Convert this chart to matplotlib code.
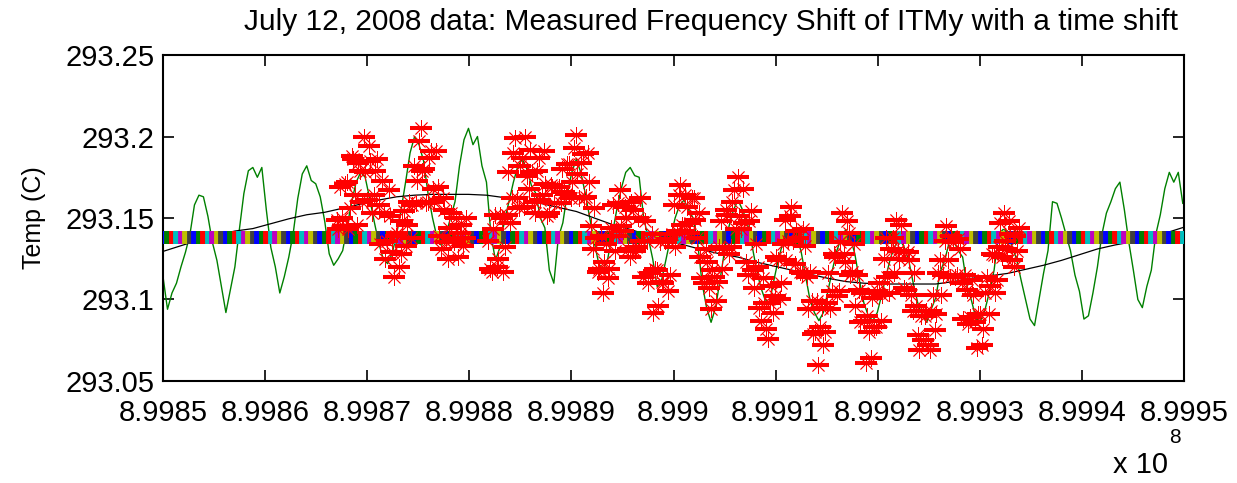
import numpy as np
import matplotlib
matplotlib.use('Agg')
from matplotlib import pyplot as plt
from matplotlib.ticker import FixedLocator, FuncFormatter

matplotlib.rcParams['font.family'] = ['Liberation Sans', 'DejaVu Sans']

### data (temperatures are stored as mK above 293 K)
base = 293.0
nan = np.nan

# green: measured temperature, one sample every 440 s
green_t0, green_dt = 899850000, 440
green_mk = [114, 94, 104, 110, 120, 129, 140, 158, 164, 163, 151, 135, 124, 108,
            92, 106, 120, 143, 165, 179, 181, 175, 181, 155, 132, 120,
            104, 114, 126, 141, 162, 177, 182, 173, 171, 163, 148, 128,
            121, 125, 130, 145, 160, 172, 178, 175, 162, 148, 135, 125,
            122, 128, 140, 155, 172, 190, 200, 195, 185, 165, 150, 138,
            133, 140, 150, 160, 182, 198, 205, 195, 200, 182, 172, 140,
            124, 132, 148, 160, 172, 182, 186, 180, 170, 165, 150, 144,
            118, 110, 138, 147, 165, 178, 186, 178, 165, 150, 135, 122,
            118, 125, 140, 155, 168, 178, 181, 176, 175, 150, 138, 125,
            108, 112, 125, 138, 150, 158, 161, 155, 150, 135, 110, 95,
            86, 95, 112, 130, 145, 155, 161, 155, 148, 135, 120, 108,
            100, 98, 112, 125, 135, 140, 143, 138, 130, 115, 100, 92,
            87, 92, 105, 118, 130, 138, 143, 138, 128, 112, 98, 90,
            87, 92, 103, 115, 126, 133, 137, 132, 124, 110, 98, 90,
            86, 94, 101, 117, 124, 135, 136, 130, 126, 108, 99, 88,
            87, 94, 105, 118, 140, 143, 142, 132, 125, 112, 100, 88,
            84, 100, 116, 130, 160, 159, 150, 140, 130, 115, 105, 88,
            90, 104, 120, 140, 153, 160, 168, 172, 155, 135, 118, 100,
            95, 108, 118, 140, 152, 168, 178, 172, 178, 159]

# red: frequency shift (time shifted, scaled to temperature), one sample every 165 s
red_t0, red_dt = 899867000, 165
red_mk = [149, 143, 169, 150, 145, 171, 172, 143, 156, 188, 186, 164, 146, 184, 179, 160, 200, 178, 161, 194,
          185, 153, 164, 179, 186, 158, 134, 173, 153, 125, 136, 167, 151, 129, 114, 139, 141, 120, 128, 148,
          154, 133, 146, 160, 138, 158, 182, 159, 173, 197, 205, 179, 180, 159, 160, 187, 191, 168, 160, 191,
          169, 139, 131, 162, 155, 135, 125, 144, 153, 137, 135, 150, 126, 141, 146, 133, 138, 150, nan, nan,
          nan, nan, nan, nan, nan, nan, nan, nan, nan, nan, 136, 119, 117, 143, 152, 120, 125, 152, 150, 117,
          132, 152, 178, 147, 162, 190, 199, 162, 156, 182, 187, 157, 200, 176, 168, 192, 178, 160, 153, 179,
          187, 161, 164, 191, 171, 151, 153, 170, 169, 159, nan, nan, 169, 159, 180, 166, 165, 183, 183, 162,
          172, 193, 201, 177, 162, 184, 189, 162, 163, 190, 172, 145, 131, 156, 138, 117, 119, 139, 104, 123,
          134, 113, 119, 144, 158, 130, 139, 159, 167, 145, 142, 157, 150, 131, 126, 160, 155, 130, 132, 150,
          162, 136, 114, 148, 136, 110, 116, 140, 92, 119, 118, 96, 135, 111, 110, 136, 137, 105, 115, 140,
          158, 132, 142, 164, 170, 146, 142, 164, 157, 141, 147, 162, 162, 149, 138, 153, 126, 113, 110, 131,
          123, 107, 94, 118, 114, 99, 111, 132, 148, 119, 131, 155, 152, 128, 132, 160, 167, 143, 175, 151,
          143, 168, 147, 123, 115, 148, 154, 118, 107, 134, 120, 95, 87, 113, 98, 82, 76, 98, 108, 92,
          102, 126, 124, 100, 110, 134, 149, 124, 136, 151, 157, 136, 122, 142, 138, 117, 116, 143, 133, 114,
          94, 117, 99, 79, 80, 99, 60, 83, 95, 72, 80, 98, 116, 94, 105, 128, 126, 102, 105, 135,
          153, 128, 123, 148, 141, 115, 117, 134, 96, 115, 106, 86, 104, 87, 61, 90, 80, 64, 101, 83,
          83, 105, 110, 87, 103, 125, 138, 114, 104, 131, 138, 116, 149, 130, 125, 146, 130, 107, 106, 129,
          124, 103, 93, 116, 96, 78, 69, 90, 75, 90, 93, 72, 69, 93, 103, 81, 91, 116, 124, 103,
          115, 136, 145, 124, 114, 139, 135, 114, 115, 137, 131, 110, 88, 115, 106, 85, 89, 112, 103, 86,
          70, 91, 91, 72, 82, 104, 114, 91, 108, 128, 127, 104, 112, 132, 147, 126, 153, 136, 131, 148,
          140, 124, 120, 139, 130, 144]

# black: slow trend, one sample every 1760 s
black_t0, black_dt = 899850000, 1760
black_mk = [129.5, 133, 136.5, 139.5, 142, 143.5, 146.5, 149.5, 152, 153.5,
            156, 158.5, 161, 163, 164, 164.5, 164.5, 164.5, 164, 162.5,
            161.5, 159, 156.5, 154, 150, 146, 143, 139.5, 136, 133.5,
            130.5, 128, 126, 123, 120.5, 118, 115.5, 113, 111, 110,
            109.5, 109.5, 109.5, 109.5, 111, 113, 114.5, 116, 118.5, 121,
            124, 127.5, 131, 133.5, 135.5, 138.5, 141.5, 145]

# constant reference level, drawn point by point
ref_level = 293.138

xticks = [8.9985e8, 8.9986e8, 8.9987e8, 8.9988e8, 8.9989e8, 8.999e8,
          8.9991e8, 8.9992e8, 8.9993e8, 8.9994e8, 8.9995e8]
yticks = [293.05, 293.1, 293.15, 293.2, 293.25]
matlab_colors = [(0, 0, 1), (0, 0.5, 0), (1, 0, 0), (0, 0.75, 0.75),
                 (0.75, 0, 0.75), (0.75, 0.75, 0), (0.25, 0.25, 0.25)]

### build arrays
green_t = green_t0 + green_dt * np.arange(len(green_mk))
green_y = base + np.array(green_mk) / 1000.
red_t = red_t0 + red_dt * np.arange(len(red_mk))
red_y = base + np.array(red_mk) / 1000.
black_t = black_t0 + black_dt * np.arange(len(black_mk))
black_y = base + np.array(black_mk) / 1000.

### plot
W, H = 1237., 483.
fig = plt.figure(figsize=(W/100, H/100), dpi=100)
ax = fig.add_axes([163/W, 1-381/H, (1184-163)/W, (381-55)/H])

ax.plot(green_t, green_y, color=(0, 0.5, 0), lw=1.0, zorder=2)
ax.plot(black_t, black_y, color='k', lw=0.9, zorder=3)

band_cols = [matlab_colors[i % 7] for i in range(len(green_t))]
ax.scatter(green_t, np.full(len(green_t), ref_level), marker='|', s=80,
           linewidths=4.2, c=band_cols, zorder=4)

asterisk = (8, 2, 0)
ax.plot(red_t, red_y, ls='none', marker=asterisk, ms=12, mec='red', mew=0.6, zorder=5)
ax.plot(red_t, red_y, ls='none', marker='_', ms=15.5, mec='red', mew=2.9, zorder=5)

ax.set_xlim(8.9985e8, 8.9995e8)
ax.set_ylim(293.05, 293.25)
ax.xaxis.set_major_locator(FixedLocator(xticks))
ax.yaxis.set_major_locator(FixedLocator(yticks))
ax.xaxis.set_major_formatter(FuncFormatter(lambda v, p: '%g' % round(v / 1e8, 4)))
ax.yaxis.set_major_formatter(FuncFormatter(lambda v, p: '%g' % round(v, 2)))
ax.tick_params(direction='in', length=8, width=1.2, top=True, right=True,
               labelsize=21, pad=6)
ax.tick_params(axis='x', pad=13)
for sp in ax.spines.values():
    sp.set_linewidth(1.5)
    sp.set_color('k')

ax.set_ylabel('Temp (C)', fontsize=18)
ax.yaxis.set_label_coords((46-163)/(1184-163), 0.5)
fig.text(711/W, 1-22/H, 'July 12, 2008 data: Measured Frequency Shift of ITMy with a time shift',
         fontsize=21.5, ha='center', va='center')
fig.text(1113/W, 1-479/H, 'x 10', fontsize=21, ha='left', va='bottom')
fig.text(1169/W, 1-428/H, '8', fontsize=15, ha='left', va='top')

plt.savefig('out.png', dpi=100)
